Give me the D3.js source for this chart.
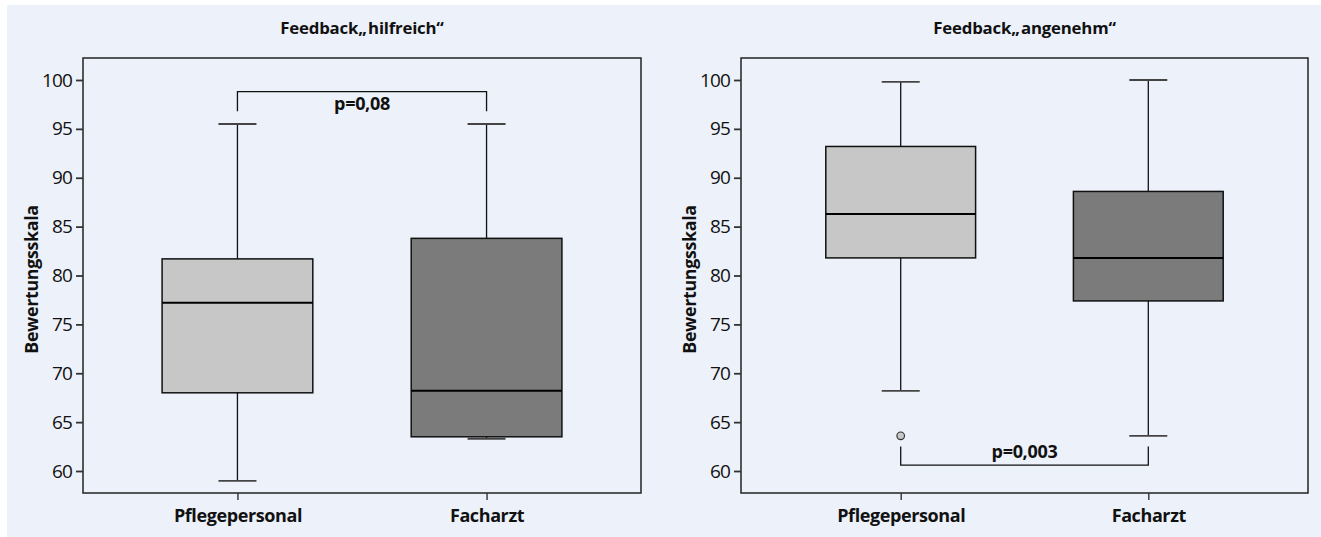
<!DOCTYPE html>
<html><head><meta charset="utf-8">
<script src="https://cdn.jsdelivr.net/npm/d3@7"></script>
<style>body{margin:0;background:#fff}svg{display:block}text{font-family:"Open Sans",sans-serif}</style>
</head><body>
<svg id="c" width="1321" height="537"></svg>
<script>
const categories = ["Pflegepersonal", "Facharzt"];
const titles = ["Feedback\u201E\u200Ahilfreich\u201C", "Feedback\u201E\u200Aangenehm\u201C"];
const yTicks = [60, 65, 70, 75, 80, 85, 90, 95, 100];
// [whiskerLow, Q1, median, Q3, whiskerHigh]
const hilfreich = [[59.0, 68.0, 77.2, 81.7, 95.5], [63.3, 63.5, 68.2, 83.8, 95.5]];
const angenehm = [[68.2, 81.8, 86.3, 93.2, 99.8], [63.6, 77.4, 81.8, 88.6, 100.0]];
const hilfreichOutliers = [[], []];
const angenehmOutliers = [[63.6], []];
// bracket: level, leg end, label
const brackets = [{level: 98.8, leg: 96.8, label: "p=0,08", above: true}, {level: 60.6, leg: 62.5, label: "p=0,003", above: false}];
const fills = ["#c6c7c6", "#7b7b7b"];

const svg = d3.select("#c");
svg.append("rect").attr("x", 7).attr("y", 5).attr("width", 1314).attr("height", 532).attr("fill", "#edf1fa");

const panels = [
  {x0: 83, x1: 641, data: hilfreich, out: hilfreichOutliers, title: titles[0], br: brackets[0], pad: 0.62},
  {x0: 741, x1: 1308, data: angenehm, out: angenehmOutliers, title: titles[1], br: brackets[1], pad: 0.645}
];
const plotTop = 58, plotBottom = 493;
const y = d3.scaleLinear().domain([57.75, 102.25]).range([plotBottom, plotTop]);

panels.forEach(p => {
  const g = svg.append("g");
  const x = d3.scalePoint().domain(categories).range([p.x0, p.x1]).padding(p.pad);
  const bw = x.step() * 0.605;
  const cw = 38;
  // title
  g.append("text").attr("x", (p.x0 + p.x1) / 2).attr("y", 34).attr("text-anchor", "middle")
    .attr("font-size", 16.8).attr("font-weight", 700).attr("fill", "#111").attr("letter-spacing", -0.2).text(p.title);
  // frame
  g.append("rect").attr("x", p.x0).attr("y", plotTop).attr("width", p.x1 - p.x0).attr("height", plotBottom - plotTop)
    .attr("fill", "none").attr("stroke", "#222").attr("stroke-width", 1.5);
  // y axis
  const ya = g.append("g").attr("transform", `translate(${p.x0},0)`)
    .call(d3.axisLeft(y).tickValues(yTicks).tickSize(7).tickPadding(4));
  ya.select(".domain").remove();
  ya.selectAll("line").attr("stroke", "#333").attr("stroke-width", 1.8);
  ya.selectAll("text").attr("font-size", 19).attr("fill", "#111").style("font-family", '"Open Sans",sans-serif').attr("letter-spacing", -0.9);
  g.append("text").attr("transform", `translate(${p.x0 - 45},${(plotTop + plotBottom) / 2 + 4}) rotate(-90)`)
    .attr("text-anchor", "middle").attr("font-size", 17.8).attr("font-weight", 700).attr("fill", "#111").attr("letter-spacing", -0.3).text("Bewertungsskala");
  // x axis
  const xa = g.append("g").attr("transform", `translate(0,${plotBottom})`)
    .call(d3.axisBottom(x).tickSize(7).tickPadding(9));
  xa.select(".domain").remove();
  xa.selectAll("line").attr("stroke", "#333").attr("stroke-width", 1.4);
  xa.selectAll("text").attr("font-size", 18).attr("font-weight", 700).attr("fill", "#111").style("font-family", '"Open Sans",sans-serif').attr("letter-spacing", -0.4);
  // boxes
  categories.forEach((c, i) => {
    const d = p.data[i];
    const cx = x(c);
    g.append("line").attr("x1", cx).attr("x2", cx).attr("y1", y(d[0])).attr("y2", y(d[4])).attr("stroke", "#111").attr("stroke-width", 1.3);
    [d[0], d[4]].forEach(v => g.append("line").attr("x1", cx - cw / 2).attr("x2", cx + cw / 2).attr("y1", y(v)).attr("y2", y(v)).attr("stroke", "#444").attr("stroke-width", 1.8));
    g.append("rect").attr("x", cx - bw / 2).attr("y", y(d[3])).attr("width", bw).attr("height", y(d[1]) - y(d[3]))
      .attr("fill", fills[i]).attr("stroke", "#111").attr("stroke-width", 1.5);
    g.append("line").attr("x1", cx - bw / 2).attr("x2", cx + bw / 2).attr("y1", y(d[2])).attr("y2", y(d[2])).attr("stroke", "#000").attr("stroke-width", 2);
    p.out[i].forEach(v => g.append("circle").attr("cx", cx).attr("cy", y(v)).attr("r", 3.8).attr("fill", "#c6c7c6").attr("stroke", "#333").attr("stroke-width", 1.2));
  });
  // bracket
  const xa0 = x(categories[0]), xa1 = x(categories[1]);
  g.append("path").attr("d", `M${xa0},${y(p.br.leg)}V${y(p.br.level)}H${xa1}V${y(p.br.leg)}`)
    .attr("fill", "none").attr("stroke", "#111").attr("stroke-width", 1.3);
  g.append("text").attr("x", (xa0 + xa1) / 2).attr("y", p.br.above ? y(p.br.level) + 18 : y(p.br.level) - 7)
    .attr("text-anchor", "middle").attr("font-size", 18).attr("font-weight", 700).attr("fill", "#111").attr("letter-spacing", -0.3).text(p.br.label);
});
</script>
</body></html>
